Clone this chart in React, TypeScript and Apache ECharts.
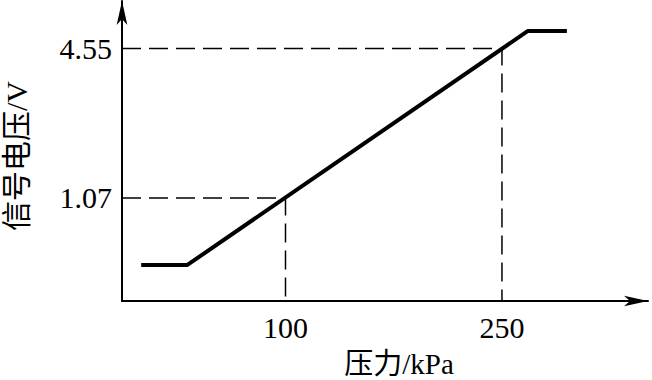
import React, { useEffect, useRef } from "react";
import * as echarts from "echarts";

const pressureTicks = [100, 250];
const voltageTicks = [1.07, 4.55];
const curvePressure = [0, 32, 268, 295];
const curveVoltage = [-0.49, -0.49, 4.96, 4.96];
const xName = "压力/kPa";
const yName = "信号电压/V";

const X_MIN = -13.3;
const X_MAX = 351.2;
const Y_MIN = -1.33;
const Y_MAX = 5.656;

export default function App() {
  const ref = useRef<HTMLDivElement>(null);
  useEffect(() => {
    if (!ref.current) return;
    const chart = echarts.init(ref.current, null, { renderer: "svg" });
    const curve = curvePressure.map((p, i) => [p, curveVoltage[i]]);
    const guides = pressureTicks.map((p, i) => ({
      type: "line",
      data: [
        [X_MIN, voltageTicks[i]],
        [p, voltageTicks[i]],
        [p, Y_MIN],
      ],
      symbol: "none",
      silent: true,
      lineStyle: { color: "#000", width: 1.5, type: [19, 8] },
      z: 1,
    }));
    const serif = "'Liberation Serif', 'Times New Roman', 'Noto Sans CJK SC', serif";
    chart.setOption({
      animation: false,
      backgroundColor: "#fff",
      grid: { left: 122, right: 4, top: 1, bottom: 79, containLabel: false },
      xAxis: {
        type: "value",
        min: X_MIN,
        max: X_MAX,
        axisLine: {
          show: true,
          onZero: false,
          symbol: ["none", "arrow"],
          symbolSize: [8, 24],
          lineStyle: { color: "#000", width: 2 },
        },
        axisTick: { show: false },
        splitLine: { show: false },
        axisLabel: {
          customValues: pressureTicks,
          color: "#000",
          fontSize: 30,
          fontFamily: serif,
          margin: 11,
        },
      },
      yAxis: {
        type: "value",
        min: Y_MIN,
        max: Y_MAX,
        axisLine: {
          show: true,
          onZero: false,
          symbol: ["none", "arrow"],
          symbolSize: [8, 24],
          lineStyle: { color: "#000", width: 2 },
        },
        axisTick: { show: false },
        splitLine: { show: false },
        axisLabel: {
          customValues: voltageTicks,
          color: "#000",
          fontSize: 30,
          fontFamily: serif,
          margin: 10,
          formatter: (v: number) => v.toFixed(2),
        },
      },
      graphic: [
        {
          type: "text",
          x: 399,
          y: 364,
          style: {
            text: xName,
            fill: "#000",
            font: `29px ${serif}`,
            textAlign: "center",
            textVerticalAlign: "middle",
          },
        },
        {
          type: "text",
          x: 16,
          y: 156,
          rotation: Math.PI / 2,
          style: {
            text: yName,
            fill: "#000",
            font: `30px ${serif}`,
            textAlign: "center",
            textVerticalAlign: "middle",
          },
        },
      ],
      series: [
        ...guides,
        {
          type: "line",
          data: curve,
          symbol: "none",
          silent: true,
          lineStyle: { color: "#000", width: 4 },
          z: 2,
        },
      ],
    });
    return () => chart.dispose();
  }, []);
  return (
    <div
      ref={ref}
      style={{ position: "fixed", left: 0, top: 0, width: 652, height: 380, background: "#fff" }}
    />
  );
}
